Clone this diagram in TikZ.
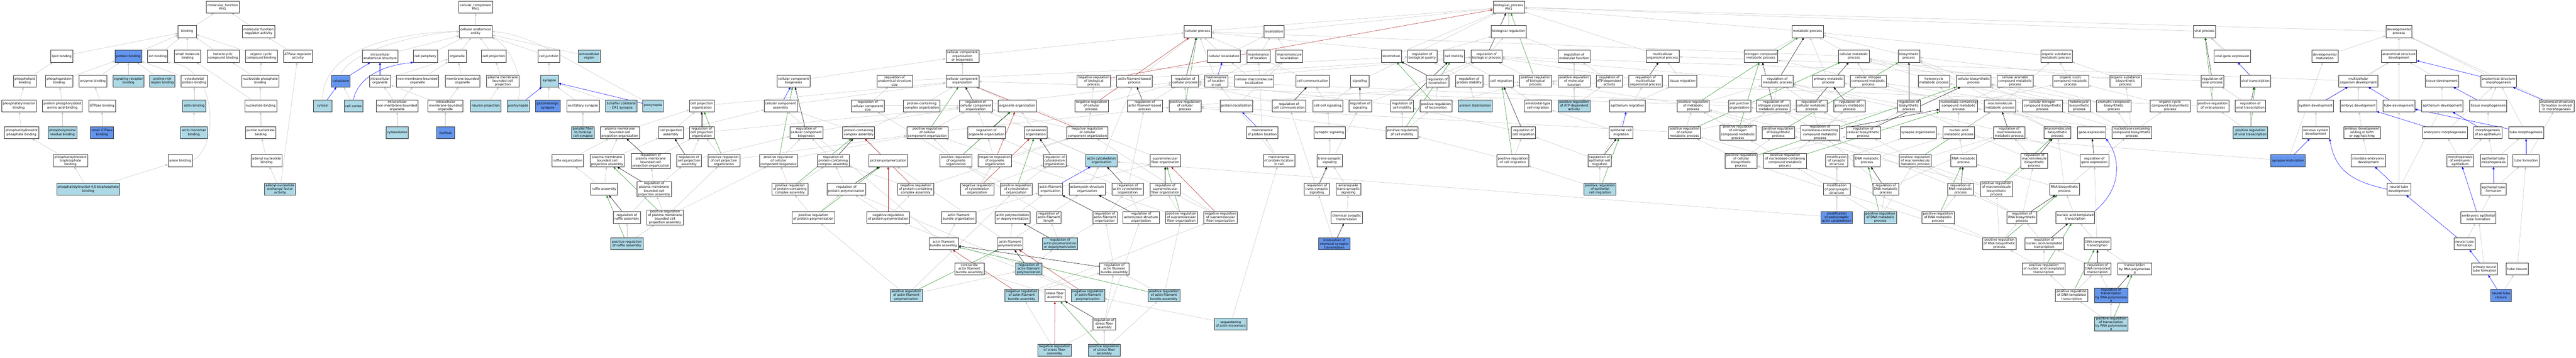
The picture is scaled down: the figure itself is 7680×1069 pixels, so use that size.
\documentclass[tikz,border=0pt]{standalone}
\usepackage{fontspec}
\setmainfont{DejaVu Sans}
\usetikzlibrary{arrows.meta,backgrounds}
\definecolor{hitblue}{HTML}{ADD8E6}
\definecolor{seedblue}{HTML}{6495ED}
\definecolor{posgreen}{HTML}{228B22}
\definecolor{negred}{HTML}{B22222}
\definecolor{isagray}{HTML}{C4C4C4}
\newcommand{\gofont}{\fontsize{9.5}{11}\selectfont}

\begin{document}
\begin{tikzpicture}[x=1pt,y=-1pt,
  goterm/.style={draw=black!80, line width=0.9pt, fill=white, align=center, font=\gofont, inner xsep=3.5pt, inner ysep=1pt, minimum width=54pt, minimum height=36pt},
  gohit/.style={goterm, fill=hitblue},
  goseed/.style={goterm, fill=seedblue},
  isa/.style={draw=isagray, line width=0.8pt, -{Triangle[length=7pt,width=6pt]}},
  regl/.style={isa, draw=black},
  posreg/.style={isa, draw=posgreen},
  negreg/.style={isa, draw=negred},
  partof/.style={isa, draw=blue}]
\useasboundingbox (0,0) rectangle (7680,1069);

\node[goterm] (mfroot) at (664,21) {molecular\_function\\Pfn1};
\node[goterm] (bind) at (558,94) {binding};
\node[goterm] (mfreg) at (771,94) {molecular function\\regulator activity};
\node[goterm] (lipb) at (184,168) {lipid binding};
\node[goseed] (protb) at (383,168) {protein binding};
\node[goterm] (ionb) at (470,168) {ion binding};
\node[goterm] (smolb) at (559,168) {small molecule\\binding};
\node[goterm] (hetb) at (665,168) {heterocyclic\\compound binding};
\node[goterm] (orgcycb) at (779,168) {organic cyclic\\compound binding};
\node[goterm] (atpreg) at (888,168) {ATPase regulator\\activity};
\node[goterm] (phlipb) at (74,242) {phospholipid\\binding};
\node[goterm] (phprotb) at (176,242) {phosphoprotein\\binding};
\node[goterm] (enzb) at (277,242) {enzyme binding};
\node[gohit] (sigrecb) at (383,242) {signaling receptor\\binding};
\node[gohit] (prorb) at (484,242) {proline-rich\\region binding};
\node[goterm] (cytprotb) at (579,242) {cytoskeletal\\protein binding};
\node[goterm] (nucphb) at (776,242) {nucleoside phosphate\\binding};
\node[goterm] (ptdinsb) at (56,316) {phosphatidylinositol\\binding};
\node[goterm] (phaab) at (186,316) {protein phosphorylated\\amino acid binding};
\node[goterm] (gtpb) at (304,316) {GTPase binding};
\node[gohit] (actb) at (579,316) {actin binding};
\node[goterm] (nucb) at (777,316) {nucleotide binding};
\node[goterm] (pipb) at (64,396) {phosphatidylinositol\\phosphate binding};
\node[gohit] (ptyrb) at (186,396) {phosphotyrosine\\residue binding};
\node[goseed] (sgtpb) at (304,396) {small GTPase\\binding};
\node[gohit] (actmb) at (578,396) {actin monomer\\binding};
\node[goterm] (purb) at (777,396) {purine nucleotide\\binding};
\node[goterm] (pip2b) at (210,480) {phosphatidylinositol\\bisphosphate\\binding};
\node[goterm] (anb) at (537,480) {anion binding};
\node[goterm] (adenb) at (795,480) {adenyl nucleotide\\binding};
\node[gohit] (pip45b) at (263,565) {phosphatidylinositol-4,5-bisphosphate\\binding};
\node[gohit] (adnef) at (835,565) {adenyl-nucleotide\\exchange factor\\activity};

\node[goterm] (ccroot) at (1418,21) {cellular\_component\\Pfn1};
\node[goterm] (cae) at (1418,94) {cellular anatomical\\entity};
\node[goterm] (ias) at (1133,168) {intracellular\\anatomical structure};
\node[goterm] (cper) at (1268,168) {cell periphery};
\node[goterm] (orgl) at (1363,168) {organelle};
\node[goterm] (cproj) at (1472,168) {cell projection};
\node[goterm] (cjunc) at (1636,168) {cell junction};
\node[gohit] (excr) at (1757,168) {extracellular\\region};
\node[goseed] (cytpl) at (1016,242) {cytoplasm};
\node[goterm] (iorg) at (1133,242) {intracellular\\organelle};
\node[goterm] (nmbo) at (1245,242) {non-membrane-bounded\\organelle};
\node[goterm] (mbo) at (1379,242) {membrane-bounded\\organelle};
\node[goterm] (pmbcp) at (1499,242) {plasma membrane\\bounded cell\\projection};
\node[gohit] (syn) at (1638,242) {synapse};
\node[gohit] (cytsol) at (962,316) {cytosol};
\node[gohit] (ccort) at (1054,316) {cell cortex};
\node[goterm] (inmbo) at (1184,316) {intracellular\\non-membrane-bounded\\organelle};
\node[goterm] (imbo) at (1328,316) {intracellular\\membrane-bounded\\organelle};
\node[gohit] (neurp) at (1448,316) {neuron projection};
\node[gohit] (postsyn) at (1545,316) {postsynapse};
\node[goseed] (glusyn) at (1633,316) {glutamatergic\\synapse};
\node[goterm] (excsyn) at (1738,316) {excitatory synapse};
\node[gohit] (schaf) at (1852,316) {Schaffer collateral\\- CA1 synapse};
\node[gohit] (presyn) at (1947,316) {presynapse};
\node[gohit] (cytsk) at (1184,396) {cytoskeleton};
\node[goseed] (nucl) at (1328,396) {nucleus};
\node[gohit] (pfpc) at (1738,396) {parallel fiber\\to Purkinje\\cell synapse};

\node[goterm] (pmbcpo) at (1848,396) {plasma membrane\\bounded cell\\projection organization};
\node[goterm] (rufo) at (1692,480) {ruffle organization};
\node[goterm] (pmbcpa) at (1810,480) {plasma membrane\\bounded cell\\projection assembly};
\node[goterm] (rpmbcpo) at (1940,480) {regulation of\\plasma membrane\\bounded cell\\projection organization};
\node[goterm] (rufa) at (1801,565) {ruffle assembly};
\node[goterm] (rpmbcpa) at (1950,565) {regulation of\\plasma membrane\\bounded cell\\projection assembly};
\node[goterm] (rrufa) at (1869,649) {regulation of\\ruffle assembly};
\node[gohit] (prrufa) at (1869,728) {positive regulation\\of ruffle assembly};
\node[goterm] (ccbio) at (2366,242) {cellular component\\biogenesis};
\node[goterm] (cpo) at (2092,316) {cell projection\\organization};
\node[goterm] (cca) at (2327,316) {cellular component\\assembly};
\node[goterm] (rccs) at (2587,316) {regulation of\\cellular component\\size};
\node[goterm] (cpa) at (2000,396) {cell projection\\assembly};
\node[goterm] (rcpo) at (2092,396) {regulation of\\cell projection\\organization};
\node[goterm] (rccb) at (2404,396) {regulation of\\cellular component\\biogenesis};
\node[goterm] (pcca) at (2560,396) {protein-containing\\complex assembly};
\node[goterm] (rcpa) at (2054,480) {regulation of\\cell projection\\assembly};
\node[goterm] (prcpo) at (2158,480) {positive regulation\\of cell projection\\organization};
\node[goterm] (prccb) at (2321,480) {positive regulation\\of cellular\\component biogenesis};
\node[goterm] (rpcca) at (2484,480) {regulation of\\protein-containing\\complex assembly};
\node[goterm] (prpmbcpa) at (1983,649) {positive regulation\\of plasma membrane\\bounded cell\\projection assembly};
\node[goterm] (prpcca) at (2355,565) {positive regulation\\of protein-containing\\complex assembly};
\node[goterm] (rppol) at (2523,565) {regulation of\\protein polymerization};
\node[goterm] (prppol) at (2425,649) {positive regulation\\of protein polymerization};

\node[goterm] (ccob) at (2869,168) {cellular component\\organization\\or biogenesis};
\node[goterm] (rass) at (2667,242) {regulation of\\anatomical structure\\size};
\node[goterm] (cco) at (2869,242) {cellular component\\organization};
\node[goterm] (pcco) at (2748,316) {protein-containing\\complex organization};
\node[goterm] (rcco) at (2909,316) {regulation of\\cellular component\\organization};
\node[goterm] (orgo) at (3033,316) {organelle organization};
\node[goterm] (prcco) at (2765,396) {positive regulation\\of cellular\\component organization};
\node[goterm] (rorgo) at (2941,396) {regulation of\\organelle organization};
\node[goterm] (cytsko) at (3088,396) {cytoskeleton\\organization};
\node[goterm] (nrcco) at (3242,396) {negative regulation\\of cellular\\component organization};
\node[goterm] (ppol) at (2648,480) {protein polymerization};
\node[goterm] (prorgo) at (2850,480) {positive regulation\\of organelle\\organization};
\node[goterm] (nrorgo) at (2966,480) {negative regulation\\of organelle\\organization};
\node[goterm] (rcytsko) at (3144,480) {regulation of\\cytoskeleton\\organization};
\node[goterm] (nrpcca) at (2730,565) {negative regulation\\of protein-containing\\complex assembly};
\node[goterm] (nrcytsko) at (2913,565) {negative regulation\\of cytoskeleton\\organization};
\node[goterm] (prcytsko) at (3030,565) {positive regulation\\of cytoskeleton\\organization};
\node[goterm] (afo) at (3132,565) {actin filament\\organization};
\node[goterm] (amso) at (3241,565) {actomyosin structure\\organization};
\node[goterm] (nrppol) at (2648,649) {negative regulation\\of protein polymerization};
\node[goterm] (afbo) at (2858,649) {actin filament\\bundle organization};
\node[goterm] (apd) at (3019,649) {actin polymerization\\or depolymerization};
\node[goterm] (rafl) at (3127,649) {regulation of\\actin filament\\length};
\node[goterm] (afba) at (2813,728) {actin filament\\bundle assembly};
\node[goterm] (afp) at (3011,728) {actin filament\\polymerization};
\node[gohit] (rapd) at (3160,728) {regulation of\\actin polymerization\\or depolymerization};
\node[goterm] (cafba) at (2890,803) {contractile\\actin filament\\bundle assembly};
\node[gohit] (rafp) at (3067,803) {regulation of\\actin filament\\polymerization};
\node[gohit] (prafp) at (2702,882) {positive regulation\\of actin filament\\polymerization};
\node[gohit] (nrafba) at (3046,882) {negative regulation\\of actin filament\\bundle assembly};
\node[goterm] (sfa) at (3145,882) {stress fiber\\assembly};
\node[gohit] (nrafp) at (3243,882) {negative regulation\\of actin filament\\polymerization};
\node[gohit] (nrsfa) at (3144,1046) {negative regulation\\of stress fiber\\assembly};

\node[goterm] (cellp) at (3571,94) {cellular process};
\node[goterm] (loc) at (3798,94) {localization};
\node[goterm] (cloc) at (3649,168) {cellular localization};
\node[goterm] (mloc) at (3752,168) {maintenance\\of location};
\node[goterm] (macloc) at (3844,168) {macromolecule\\localization};
\node[goterm] (nrbp) at (3261,242) {negative regulation\\of biological\\process};
\node[goterm] (afbp) at (3382,242) {actin filament-based\\process};
\node[goterm] (rcellp) at (3533,242) {regulation of\\cellular process};
\node[goterm] (mlocc) at (3626,242) {maintenance\\of location\\in cell};
\node[goterm] (cmloc) at (3739,242) {cellular macromolecule\\localization};
\node[goterm] (nrcellp) at (3254,316) {negative regulation\\of cellular\\process};
\node[goterm] (rafbp) at (3413,316) {regulation of\\actin filament-based\\process};
\node[goterm] (prcellp) at (3533,316) {positive regulation\\of cellular\\process};
\node[goterm] (ploc) at (3686,316) {protein localization};
\node[goterm] (rcc) at (3843,316) {regulation of\\cell communication};
\node[goterm] (mploc) at (3763,396) {maintenance\\of protein location};
\node[gohit] (acso) at (3284,480) {actin cytoskeleton\\organization};
\node[goterm] (sfo) at (3474,480) {supramolecular\\fiber organization};
\node[goterm] (mplocc) at (3813,480) {maintenance\\of protein location\\in cell};
\node[goterm] (racso) at (3362,565) {regulation of\\actin cytoskeleton\\organization};
\node[goterm] (rsfo) at (3474,565) {regulation of\\supramolecular\\fiber organization};
\node[goterm] (rafo) at (3294,649) {regulation of\\actin filament\\organization};
\node[goterm] (ramso) at (3402,649) {regulation of\\actomyosin structure\\organization};
\node[goterm] (prsfo) at (3522,649) {positive regulation\\of supramolecular\\fiber organization};
\node[goterm] (nrsfo) at (3639,649) {negative regulation\\of supramolecular\\fiber organization};
\node[goterm] (rafba) at (3322,803) {regulation of\\actin filament\\bundle assembly};
\node[gohit] (prafba) at (3470,882) {positive regulation\\of actin filament\\bundle assembly};
\node[gohit] (seqam) at (3669,967) {sequestering\\of actin monomers};
\node[goterm] (rsfa) at (3292,967) {regulation of\\stress fiber\\assembly};
\node[gohit] (prsfa) at (3292,1046) {positive regulation\\of stress fiber\\assembly};

\node[goterm] (bproot) at (4498,21) {biological\_process\\Pfn1};
\node[goterm] (breg) at (4498,94) {biological regulation};
\node[goterm] (locom) at (4148,168) {locomotion};
\node[goterm] (rbq) at (4240,168) {regulation of\\biological quality};
\node[goterm] (cmot) at (4335,168) {cell motility};
\node[goterm] (rbp) at (4432,168) {regulation of\\biological process};
\node[goterm] (ccom) at (3913,242) {cell communication};
\node[goterm] (sig) at (4054,242) {signaling};
\node[goterm] (rlocom) at (4286,242) {regulation of\\locomotion};
\node[goterm] (rps) at (4380,242) {regulation of\\protein stability};
\node[goterm] (cmig) at (4476,242) {cell migration};
\node[goterm] (ccsig) at (3958,316) {cell-cell signaling};
\node[goterm] (rsig) at (4055,316) {regulation of\\signaling};
\node[goterm] (rcmot) at (4180,316) {regulation of\\cell motility};
\node[goterm] (prlocom) at (4281,316) {positive regulation\\of locomotion};
\node[gohit] (pstab) at (4398,316) {protein stabilization};
\node[goterm] (synsig) at (3964,396) {synaptic signaling};
\node[goterm] (prcmot) at (4180,396) {positive regulation\\of cell motility};
\node[goterm] (tss) at (3964,480) {trans-synaptic\\signaling};
\node[goterm] (prcmig) at (4510,480) {positive regulation\\of cell migration};
\node[goterm] (rtss) at (3926,565) {regulation of\\trans-synaptic\\signaling};
\node[goterm] (atss) at (4020,565) {anterograde\\trans-synaptic\\signaling};
\node[goterm] (cst) at (4015,649) {chemical synaptic\\transmission};
\node[goseed] (mcst) at (3978,728) {modulation of\\chemical synaptic\\transmission};

\node[goterm] (rmf) at (4693,168) {regulation of\\molecular function};
\node[goterm] (mop) at (4957,168) {multicellular\\organismal process};
\node[goterm] (prbp) at (4578,242) {positive regulation\\of biological\\process};
\node[goterm] (prmf) at (4693,242) {positive regulation\\of molecular\\function};
\node[goterm] (ratp) at (4798,242) {regulation of\\ATP-dependent\\activity};
\node[goterm] (rmop) at (4906,242) {regulation of\\multicellular\\organismal process};
\node[goterm] (tmig) at (5016,242) {tissue migration};
\node[goterm] (amcm) at (4585,316) {ameboidal-type\\cell migration};
\node[gohit] (pratp) at (4693,316) {positive regulation\\of ATP-dependent\\activity};
\node[goterm] (epmig) at (4852,316) {epithelium migration};
\node[goterm] (prmp) at (5048,316) {positive regulation\\of metabolic\\process};
\node[goterm] (rcmig) at (4542,396) {regulation of\\cell migration};
\node[goterm] (epcm) at (4833,396) {epithelial cell\\migration};
\node[goterm] (prcmp) at (5022,396) {positive regulation\\of cellular\\metabolic process};
\node[goterm] (repcm) at (4769,480) {regulation of\\epithelial cell\\migration};
\node[gohit] (prepcm) at (4770,565) {positive regulation\\of epithelial\\cell migration};

\node[goterm] (metp) at (5389,94) {metabolic process};
\node[goterm] (ncmp) at (5250,168) {nitrogen compound\\metabolic process};
\node[goterm] (cmp) at (5527,168) {cellular metabolic\\process};
\node[goterm] (biosp) at (5691,168) {biosynthetic\\process};
\node[goterm] (rmp) at (5299,242) {regulation of\\metabolic process};
\node[goterm] (pmp) at (5451,242) {primary metabolic\\process};
\node[goterm] (cncmp) at (5570,242) {cellular nitrogen\\compound metabolic\\process};
\node[goterm] (hmp) at (5766,242) {heterocycle\\metabolic process};
\node[goterm] (cjo) at (5186,316) {cell junction\\organization};
\node[goterm] (rncmp) at (5287,316) {regulation of\\nitrogen compound\\metabolic process};
\node[goterm] (rcmp) at (5401,316) {regulation of\\cellular metabolic\\process};
\node[goterm] (rpmp) at (5514,316) {regulation of\\primary metabolic\\process};
\node[goterm] (rbiosp) at (5691,316) {regulation of\\biosynthetic\\process};
\node[goterm] (prncmp) at (5181,396) {positive regulation\\of nitrogen\\compound metabolic\\process};
\node[goterm] (prbiosp) at (5302,396) {positive regulation\\of biosynthetic\\process};
\node[goterm] (rnbcmp) at (5426,396) {regulation of\\nucleobase-containing\\compound metabolic\\process};
\node[goterm] (rcbiosp) at (5555,396) {regulation of\\cellular biosynthetic\\process};
\node[goterm] (syno) at (5719,396) {synapse organization};
\node[goterm] (prcbiosp) at (5191,480) {positive regulation\\of cellular\\biosynthetic\\process};
\node[goterm] (prnbcmp) at (5322,480) {positive regulation\\of nucleobase-containing\\compound metabolic\\process};
\node[goterm] (mss) at (5476,480) {modification\\of synaptic\\structure};
\node[goterm] (dnamp) at (5566,480) {DNA metabolic\\process};
\node[goterm] (prmmp) at (5710,480) {positive regulation\\of macromolecule\\metabolic process};
\node[goterm] (mpss) at (5476,565) {modification\\of postsynaptic\\structure};
\node[goterm] (rdnamp) at (5622,565) {regulation of\\DNA metabolic\\process};
\node[goseed] (mpac) at (5476,649) {modification\\of postsynaptic\\actin cytoskeleton};
\node[gohit] (prdnamp) at (5606,649) {positive regulation\\of DNA metabolic\\process};
\node[goterm] (prrnamp) at (5778,649) {positive regulation\\of RNA metabolic\\process};

\node[goterm] (osmp) at (6131,168) {organic substance\\metabolic process};
\node[goterm] (cbiosp) at (5884,242) {cellular biosynthetic\\process};
\node[goterm] (camp) at (6008,242) {cellular aromatic\\compound metabolic\\process};
\node[goterm] (occmp) at (6173,242) {organic cyclic\\compound metabolic\\process};
\node[goterm] (osbp) at (6337,242) {organic substance\\biosynthetic\\process};
\node[goterm] (nbcmp) at (5839,316) {nucleobase-containing\\compound metabolic\\process};
\node[goterm] (mmp) at (5963,316) {macromolecule\\metabolic process};
\node[goterm] (cncbp) at (6089,316) {cellular nitrogen\\compound biosynthetic\\process};
\node[goterm] (hbp) at (6199,316) {heterocycle\\biosynthetic\\process};
\node[goterm] (acbp) at (6302,316) {aromatic compound\\biosynthetic\\process};
\node[goterm] (namp) at (5840,396) {nucleic acid\\metabolic process};
\node[goterm] (rmmp) at (5990,396) {regulation of\\macromolecule\\metabolic process};
\node[goterm] (mbp) at (6134,396) {macromolecule\\biosynthetic\\process};
\node[goterm] (gexp) at (6236,396) {gene expression};
\node[goterm] (nbcbp) at (6356,396) {nucleobase-containing\\compound biosynthetic\\process};
\node[goterm] (rnamp) at (5854,480) {RNA metabolic\\process};
\node[goterm] (rmbp) at (6065,480) {regulation of\\macromolecule\\biosynthetic\\process};
\node[goterm] (rgexp) at (6244,480) {regulation of\\gene expression};
\node[goterm] (rrnamp) at (5845,565) {regulation of\\RNA metabolic\\process};
\node[goterm] (prmbp) at (5952,565) {positive regulation\\of macromolecule\\biosynthetic\\process};
\node[goterm] (rnabp) at (6155,565) {RNA biosynthetic\\process};
\node[goterm] (rrnabp) at (6028,649) {regulation of\\RNA biosynthetic\\process};
\node[goterm] (natt) at (6187,649) {nucleic acid-templated\\transcription};
\node[goterm] (prrnabp) at (5961,728) {positive regulation\\of RNA biosynthetic\\process};
\node[goterm] (rnatt) at (6094,728) {regulation of\\nucleic acid-templated\\transcription};
\node[goterm] (dtt) at (6253,728) {DNA-templated\\transcription};
\node[goterm] (prnatt) at (6093,803) {positive regulation\\of nucleic acid-templated\\transcription};
\node[goterm] (rdtt) at (6254,803) {regulation of\\DNA-templated\\transcription};
\node[goterm] (tpol) at (6364,803) {transcription\\by RNA polymerase\\II};
\node[goterm] (prdtt) at (6176,882) {positive regulation\\of DNA-templated\\transcription};
\node[goseed] (rtpol) at (6294,882) {regulation of\\transcription\\by RNA polymerase\\II};
\node[gohit] (prtpol) at (6294,967) {positive regulation\\of transcription\\by RNA polymerase\\II};

\node[goterm] (virp) at (6572,94) {viral process};
\node[goterm] (vge) at (6655,168) {viral gene expression};
\node[goterm] (devmat) at (6931,168) {developmental\\maturation};
\node[goterm] (rvirp) at (6596,242) {regulation of\\viral process};
\node[goterm] (virt) at (6724,242) {viral transcription};
\node[goterm] (mod) at (7031,242) {multicellular\\organism development};
\node[goterm] (occbp) at (6470,316) {organic cyclic\\compound biosynthetic\\process};
\node[goterm] (prvirp) at (6597,316) {positive regulation\\of viral process};
\node[goterm] (rvirt) at (6709,316) {regulation of\\viral transcription};
\node[goterm] (sysdev) at (6904,316) {system development};
\node[goterm] (embdev) at (7031,316) {embryo development};
\node[gohit] (prvirt) at (6709,396) {positive regulation\\of viral transcription};
\node[goterm] (nsdev) at (6904,396) {nervous system\\development};
\node[goterm] (edeb) at (7042,396) {embryo development\\ending in birth\\or egg hatching};
\node[goseed] (synmat) at (6821,480) {synapse maturation};
\node[goterm] (ced) at (7061,480) {chordate embryonic\\development};

\node[goterm] (devp) at (7152,94) {developmental\\process};
\node[goterm] (asdev) at (7152,168) {anatomical structure\\development};
\node[goterm] (tisdev) at (7280,242) {tissue development};
\node[goterm] (asmor) at (7449,242) {anatomical structure\\morphogenesis};
\node[goterm] (tubdev) at (7152,316) {tube development};
\node[goterm] (epdev) at (7281,316) {epithelium development};
\node[goterm] (tismor) at (7418,316) {tissue morphogenesis};
\node[goterm] (asfim) at (7622,316) {anatomical structure\\formation involved\\in morphogenesis};
\node[goterm] (embmor) at (7289,396) {embryonic morphogenesis};
\node[goterm] (moep) at (7417,396) {morphogenesis\\of an epithelium};
\node[goterm] (tubmor) at (7531,396) {tube morphogenesis};
\node[goterm] (moemb) at (7335,480) {morphogenesis\\of embryonic\\epithelium};
\node[goterm] (eptm) at (7434,480) {epithelial tube\\morphogenesis};
\node[goterm] (tubf) at (7531,480) {tube formation};
\node[goterm] (ntdev) at (7152,565) {neural tube\\development};
\node[goterm] (eptf) at (7434,565) {epithelial tube\\formation};
\node[goterm] (eetf) at (7389,649) {embryonic epithelial\\tube formation};
\node[goterm] (ntf) at (7348,728) {neural tube\\formation};
\node[goterm] (pntf) at (7407,803) {primary neural\\tube formation};
\node[goterm] (tubc) at (7505,803) {tube closure};
\node[goseed] (ntc) at (7456,882) {neural tube\\closure};

\begin{scope}[on background layer]
\fill[white] (0,0) rectangle (7680,1069);
\draw[isa] (bind) -- (mfroot); \draw[isa] (mfreg) -- (mfroot); \draw[isa] (lipb) -- (bind); \draw[isa] (protb) -- (bind);
\draw[isa] (ionb) -- (bind); \draw[isa] (smolb) -- (bind); \draw[isa] (hetb) -- (bind); \draw[isa] (orgcycb) -- (bind);
\draw[isa] (atpreg) -- (mfreg); \draw[isa] (phlipb) -- (lipb); \draw[isa] (phprotb) -- (protb); \draw[isa] (enzb) -- (protb);
\draw[isa] (sigrecb) -- (protb); \draw[isa] (prorb) -- (protb); \draw[isa] (cytprotb) -- (protb); \draw[isa] (nucphb) -- (orgcycb);
\draw[isa] (nucphb) -- (hetb); \draw[isa] (ptdinsb) -- (phlipb); \draw[isa] (phaab) -- (phprotb); \draw[isa] (gtpb) -- (enzb);
\draw[isa] (actb) -- (cytprotb); \draw[isa] (nucb) -- (nucphb); \draw[isa] (nucb) -- (smolb); \draw[isa] (pipb) -- (ptdinsb);
\draw[isa] (ptyrb) -- (phaab); \draw[isa] (sgtpb) -- (gtpb); \draw[isa] (actmb) -- (actb); \draw[isa] (purb) -- (nucb);
\draw[isa] (pip2b) -- (pipb); \draw[isa] (adenb) -- (purb); \draw[isa] (pip45b) -- (pip2b);
\draw[isa] (anb.east) .. controls (655,440) and (650,200) .. (ionb.south east);
\draw[isa] (pip45b) -- (anb); \draw[isa] (adnef) -- (adenb); \draw[isa] (adnef) -- (atpreg);

\draw[isa] (cae) -- (ccroot); \draw[isa] (ias) -- (cae); \draw[isa] (cper) -- (cae); \draw[isa] (orgl) -- (cae);
\draw[isa] (cproj) -- (cae); \draw[isa] (cjunc) -- (cae); \draw[isa] (excr) -- (cae);
\draw[isa] (cytpl.north) .. controls (1045,150) and (1250,100) .. (cae.west);
\draw[isa] (cytsol.north) .. controls (960,140) and (1200,96) .. (cae.west);
\draw[isa] (postsyn.north) .. controls (1565,220) and (1510,130) .. (cae.south east);
\draw[isa] (presyn.north west) .. controls (1720,200) and (1600,105) .. (cae.east);
\draw[isa] (iorg) -- (orgl);
\draw[isa] (nmbo) -- (orgl); \draw[isa] (mbo) -- (orgl); \draw[isa] (pmbcp) -- (cproj); \draw[isa] (syn) -- (cjunc);
\draw[isa] (ccort) -- (cytpl); \draw[isa] (inmbo) -- (iorg); \draw[isa] (inmbo) -- (nmbo); \draw[isa] (imbo) -- (iorg);
\draw[isa] (imbo) -- (mbo); \draw[isa] (neurp) -- (pmbcp); \draw[isa] (glusyn) -- (syn); \draw[isa] (excsyn) -- (syn);
\draw[isa] (schaf) -- (syn); \draw[isa] (cytsk) -- (inmbo); \draw[isa] (nucl) -- (imbo); \draw[isa] (pfpc) -- (excsyn);
\draw[partof] (cytpl) -- (ias); \draw[partof] (iorg) -- (ias); \draw[partof] (cytsol) -- (cytpl);
\draw[partof] (ccort.north) .. controls (1060,260) and (1100,200) .. (cper.south west);
\draw[partof] (postsyn) -- (syn); \draw[partof] (presyn) -- (syn);

\draw[isa] (rufo) -- (pmbcpo); \draw[isa] (pmbcpa) -- (pmbcpo); \draw[isa] (rufa) -- (rufo); \draw[isa] (rufa) -- (pmbcpa);
\draw[isa] (rrufa) -- (rpmbcpa); \draw[isa] (prrufa) -- (rrufa); \draw[isa] (prrufa) -- (prpmbcpa); \draw[isa] (pmbcpo) -- (cpo);
\draw[isa] (pmbcpa) -- (cpa); \draw[isa] (rpmbcpo) -- (rcpo); \draw[isa] (rpmbcpa) -- (rpmbcpo); \draw[isa] (rpmbcpa) -- (rcpa);
\draw[isa] (prpmbcpa) -- (rpmbcpa); \draw[isa] (prpmbcpa) -- (prcpo); \draw[isa] (prpmbcpa) -- (prccb); \draw[isa] (cpa) -- (cpo);
\draw[isa] (cpa) -- (cca); \draw[isa] (rcpa) -- (rcpo); \draw[isa] (prcpo) -- (rcpo); \draw[isa] (cpo) -- (cco);
\draw[isa] (cca) -- (cco); \draw[isa] (ccbio) -- (ccob); \draw[isa] (prccb) -- (rccb); \draw[isa] (rpcca) -- (rccb);
\draw[isa] (prpcca) -- (prccb); \draw[isa] (prpcca) -- (rpcca); \draw[isa] (rppol) -- (rpcca); \draw[isa] (prppol) -- (prpcca);
\draw[isa] (prppol) -- (rppol); \draw[isa] (pcca) -- (cca); \draw[isa] (pcca) -- (pcco); \draw[isa] (rccb) -- (rcco);
\draw[isa] (prccb) -- (prcco); \draw[isa] (rcpo) -- (rcco); \draw[isa] (prcpo) -- (prcco); \draw[isa] (rcpa) -- (rccb);
\draw[isa] (rccs) -- (rass); \draw[isa] (rccs) -- (rcco);
\draw[regl] (rpmbcpo) -- (pmbcpo); \draw[regl] (rpmbcpa) -- (pmbcpa); \draw[regl] (rrufa) -- (rufa); \draw[regl] (rcpo) -- (cpo);
\draw[regl] (rcpa) -- (cpa); \draw[regl] (rccb) -- (ccbio); \draw[regl] (rpcca) -- (pcca); \draw[regl] (rppol) -- (ppol);
\draw[posreg] (prrufa) -- (rufa); \draw[posreg] (prpmbcpa) -- (pmbcpa); \draw[posreg] (prcpo) -- (cpo); \draw[posreg] (prccb) -- (ccbio);
\draw[posreg] (prpcca) -- (pcca); \draw[posreg] (prppol) -- (ppol);
\draw[partof] (cca) -- (ccbio);

\draw[isa] (cco) -- (ccob); \draw[isa] (ccob) -- (cellp); \draw[isa] (rass) -- (rbq); \draw[isa] (pcco) -- (cco);
\draw[isa] (rcco) -- (rcellp); \draw[isa] (orgo) -- (cco); \draw[isa] (prcco) -- (rcco); \draw[isa] (prcco) -- (prcellp);
\draw[isa] (rorgo) -- (rcco); \draw[isa] (cytsko) -- (orgo); \draw[isa] (nrcco) -- (rcco); \draw[isa] (nrcco) -- (nrcellp);
\draw[isa] (ppol) -- (pcca); \draw[isa] (prorgo) -- (rorgo); \draw[isa] (prorgo) -- (prcco); \draw[isa] (nrorgo) -- (rorgo);
\draw[isa] (nrorgo) -- (nrcco); \draw[isa] (rcytsko) -- (rorgo); \draw[isa] (nrpcca) -- (rpcca); \draw[isa] (nrpcca) -- (nrcco);
\draw[isa] (nrcytsko) -- (rcytsko); \draw[isa] (nrcytsko) -- (nrorgo); \draw[isa] (prcytsko) -- (rcytsko); \draw[isa] (prcytsko) -- (prorgo);
\draw[isa] (afo) -- (sfo); \draw[isa] (nrppol) -- (rppol); \draw[isa] (nrppol) -- (nrpcca); \draw[isa] (afbo) -- (afo);
\draw[isa] (apd) -- (afo); \draw[isa] (rafl) -- (rccs); \draw[isa] (afba) -- (afbo); \draw[isa] (afba) -- (cca);
\draw[isa] (afp) -- (apd); \draw[isa] (afp) -- (ppol); \draw[isa] (rapd) -- (rafl); \draw[isa] (rapd) -- (rafo);
\draw[isa] (cafba) -- (afba); \draw[isa] (cafba) -- (amso); \draw[isa] (rafp) -- (rapd); \draw[isa] (rafp) -- (rppol);
\draw[isa] (prafp) -- (rafp); \draw[isa] (prafp) -- (prppol); \draw[isa] (prafp) -- (prcytsko); \draw[isa] (nrafba) -- (rafba);
\draw[isa] (nrafba) -- (nrsfo); \draw[isa] (sfa) -- (cafba); \draw[isa] (nrafp) -- (rafp); \draw[isa] (nrafp) -- (nrppol);
\draw[isa] (nrsfa) -- (rsfa); \draw[isa] (nrsfa) -- (nrafba);
\draw[regl] (rcco) -- (cco); \draw[regl] (rorgo) -- (orgo); \draw[regl] (rcytsko) -- (cytsko); \draw[regl] (rafp) -- (afp);
\draw[regl] (rapd) -- (apd); \draw[regl] (rafba) -- (afba); \draw[regl] (rsfa) -- (sfa);
\draw[posreg] (prcco) -- (cco); \draw[posreg] (prorgo) -- (orgo); \draw[posreg] (prcytsko) -- (cytsko); \draw[posreg] (prafp) -- (afp);
\draw[posreg] (prafba) -- (afba); \draw[posreg] (prsfa) -- (sfa);
\draw[negreg] (nrcco) -- (cco); \draw[negreg] (nrorgo) -- (orgo); \draw[negreg] (nrcytsko) -- (cytsko); \draw[negreg] (nrpcca) -- (pcca);
\draw[negreg] (nrppol) -- (ppol); \draw[negreg] (nrafba) -- (afba); \draw[negreg] (nrafp) -- (afp); \draw[negreg] (nrsfa) -- (sfa);
\draw[partof] (afo) -- (acso);

\draw[isa] (cellp) -- (bproot); \draw[isa] (loc) -- (bproot); \draw[isa] (cloc) -- (loc); \draw[isa] (cloc) -- (cellp);
\draw[isa] (mloc) -- (loc); \draw[isa] (macloc) -- (loc); \draw[isa] (afbp) -- (cellp); \draw[isa] (rcellp) -- (rbp);
\draw[isa] (mlocc) -- (mloc); \draw[isa] (mlocc) -- (cellp); \draw[isa] (cmloc) -- (macloc); \draw[isa] (cmloc) -- (cloc);
\draw[isa] (nrbp) -- (rbp); \draw[isa] (rafbp) -- (rcellp); \draw[isa] (prcellp) -- (rcellp); \draw[isa] (prcellp) -- (prbp);
\draw[isa] (nrcellp) -- (nrbp); \draw[isa] (nrcellp) -- (rcellp); \draw[isa] (ploc) -- (macloc); \draw[isa] (mploc) -- (mloc);
\draw[isa] (acso) -- (afbp); \draw[isa] (acso) -- (cytsko); \draw[isa] (sfo) -- (cco); \draw[isa] (mplocc) -- (mploc);
\draw[isa] (mplocc) -- (mlocc); \draw[isa] (amso) -- (acso); \draw[isa] (racso) -- (rafbp); \draw[isa] (racso) -- (rcytsko);
\draw[isa] (rsfo) -- (rcco); \draw[isa] (rafo) -- (racso); \draw[isa] (rafo) -- (rsfo); \draw[isa] (ramso) -- (racso);
\draw[isa] (prsfo) -- (rsfo); \draw[isa] (prsfo) -- (prcco); \draw[isa] (nrsfo) -- (rsfo); \draw[isa] (nrsfo) -- (nrcco);
\draw[isa] (rafba) -- (rafo); \draw[isa] (prafba) -- (rafba); \draw[isa] (prafba) -- (prsfo); \draw[isa] (seqam) -- (nrafp);
\draw[isa] (seqam) -- (mplocc); \draw[isa] (rsfa) -- (ramso); \draw[isa] (rsfa) -- (rafba); \draw[isa] (prsfa) -- (rsfa);
\draw[isa] (prsfa) -- (prafba);
\draw[regl] (rcellp) -- (cellp); \draw[regl] (rafbp) -- (afbp); \draw[regl] (racso) -- (acso); \draw[regl] (rsfo) -- (sfo);
\draw[regl] (rafo) -- (afo); \draw[regl] (ramso) -- (amso); \draw[regl] (rbp) -- (bproot);
\draw[posreg] (prcellp) -- (cellp); \draw[posreg] (prsfo) -- (sfo); \draw[posreg] (prbp) -- (bproot);
\draw[negreg] (nrbp) -- (bproot); \draw[negreg] (nrcellp) -- (cellp); \draw[negreg] (nrsfo) -- (sfo);
\draw[partof] (mlocc) -- (cloc); \draw[partof] (mploc) -- (ploc);

\draw[isa] (breg) -- (bproot); \draw[isa] (locom) -- (bproot); \draw[isa] (rbq) -- (breg); \draw[isa] (cmot) -- (cellp);
\draw[isa] (rbp) -- (breg); \draw[isa] (ccom) -- (cellp); \draw[isa] (sig) -- (bproot); \draw[isa] (rlocom) -- (rbp);
\draw[isa] (rps) -- (rbq); \draw[isa] (cmig) -- (cmot); \draw[isa] (rcc) -- (rcellp); \draw[isa] (ccsig) -- (ccom);
\draw[isa] (ccsig) -- (sig); \draw[isa] (rsig) -- (rbp); \draw[isa] (rcmot) -- (rlocom); \draw[isa] (rcmot) -- (rcellp);
\draw[isa] (prlocom) -- (rlocom); \draw[isa] (prlocom) -- (prbp); \draw[isa] (pstab) -- (rps); \draw[isa] (synsig) -- (ccsig);
\draw[isa] (prcmot) -- (rcmot); \draw[isa] (prcmot) -- (prlocom); \draw[isa] (prcmot) -- (prcellp); \draw[isa] (tss) -- (synsig);
\draw[isa] (rtss) -- (rsig); \draw[isa] (rtss) -- (rcc); \draw[isa] (atss) -- (tss); \draw[isa] (cst) -- (atss);
\draw[isa] (mcst) -- (rtss); \draw[isa] (prcmig) -- (prcmot); \draw[isa] (prcmig) -- (rcmig); \draw[isa] (rcmig) -- (rcmot);
\draw[regl] (rlocom) -- (locom); \draw[regl] (rcc) -- (ccom); \draw[regl] (rsig) -- (sig); \draw[regl] (rcmot) -- (cmot);
\draw[regl] (rtss) -- (tss); \draw[regl] (mcst) -- (cst); \draw[regl] (rcmig) -- (cmig);
\draw[posreg] (prlocom) -- (locom); \draw[posreg] (prcmot) -- (cmot); \draw[posreg] (prcmig) -- (cmig);

\draw[isa] (mop) -- (bproot); \draw[isa] (rmf) -- (breg); \draw[isa] (prbp) -- (rbp); \draw[isa] (prmf) -- (rmf);
\draw[isa] (prmf) -- (prbp); \draw[isa] (ratp) -- (rmf); \draw[isa] (rmop) -- (rbp); \draw[isa] (tmig) -- (mop);
\draw[isa] (amcm) -- (cmig); \draw[isa] (pratp) -- (prmf); \draw[isa] (pratp) -- (ratp); \draw[isa] (epmig) -- (tmig);
\draw[isa] (prmp) -- (rmp); \draw[isa] (prmp) -- (prbp); \draw[isa] (epcm) -- (amcm); \draw[isa] (prcmp) -- (prmp);
\draw[isa] (prcmp) -- (rcmp); \draw[isa] (prcmp) -- (prcellp); \draw[isa] (repcm) -- (rcmig); \draw[isa] (repcm) -- (rmop);
\draw[isa] (prepcm) -- (repcm); \draw[isa] (prepcm) -- (prcmig);
\draw[regl] (rmop) -- (mop); \draw[regl] (repcm) -- (epcm);
\draw[posreg] (prmp) -- (metp); \draw[posreg] (prcmp) -- (cmp); \draw[posreg] (prepcm) -- (epcm);
\draw[partof] (epcm) -- (epmig);

\draw[isa] (metp) -- (bproot); \draw[isa] (ncmp) -- (metp); \draw[isa] (cmp) -- (metp); \draw[isa] (cmp) -- (cellp);
\draw[isa] (biosp) -- (metp); \draw[isa] (rmp) -- (rbp); \draw[isa] (pmp) -- (metp); \draw[isa] (cncmp) -- (cmp);
\draw[isa] (cncmp) -- (ncmp); \draw[isa] (hmp) -- (cmp); \draw[isa] (rncmp) -- (rmp); \draw[isa] (rcmp) -- (rmp);
\draw[isa] (rcmp) -- (rcellp); \draw[isa] (rpmp) -- (rmp); \draw[isa] (rbiosp) -- (rmp); \draw[isa] (cjo) -- (cco);
\draw[isa] (prncmp) -- (rncmp); \draw[isa] (prncmp) -- (prmp); \draw[isa] (prbiosp) -- (rbiosp); \draw[isa] (prbiosp) -- (prmp);
\draw[isa] (rnbcmp) -- (rcmp); \draw[isa] (rnbcmp) -- (rncmp); \draw[isa] (rnbcmp) -- (rpmp); \draw[isa] (rcbiosp) -- (rbiosp);
\draw[isa] (rcbiosp) -- (rcmp); \draw[isa] (syno) -- (cjo); \draw[isa] (prcbiosp) -- (prbiosp); \draw[isa] (prcbiosp) -- (rcbiosp);
\draw[isa] (prcbiosp) -- (prcmp); \draw[isa] (prnbcmp) -- (rnbcmp); \draw[isa] (prnbcmp) -- (prncmp); \draw[isa] (prnbcmp) -- (prcmp);
\draw[isa] (mss) -- (syno); \draw[isa] (dnamp) -- (namp); \draw[isa] (prmmp) -- (rmmp); \draw[isa] (prmmp) -- (prmp);
\draw[isa] (mpss) -- (mss); \draw[isa] (rdnamp) -- (rnbcmp); \draw[isa] (rdnamp) -- (rmmp); \draw[isa] (mpac) -- (mpss);
\draw[isa] (mpac) -- (acso); \draw[isa] (prdnamp) -- (rdnamp); \draw[isa] (prdnamp) -- (prmmp); \draw[isa] (prdnamp) -- (prnbcmp);
\draw[isa] (prrnamp) -- (rrnamp); \draw[isa] (prrnamp) -- (prnbcmp);
\draw[regl] (rmp) -- (metp); \draw[regl] (rncmp) -- (ncmp); \draw[regl] (rcmp) -- (cmp); \draw[regl] (rpmp) -- (pmp);
\draw[regl] (rbiosp) -- (biosp); \draw[regl] (rnbcmp) -- (nbcmp); \draw[regl] (rcbiosp) -- (cbiosp); \draw[regl] (rdnamp) -- (dnamp);
\draw[posreg] (prncmp) -- (ncmp); \draw[posreg] (prbiosp) -- (biosp); \draw[posreg] (prcbiosp) -- (cbiosp); \draw[posreg] (prnbcmp) -- (nbcmp);
\draw[posreg] (prmmp) -- (mmp); \draw[posreg] (prdnamp) -- (dnamp); \draw[posreg] (prrnamp) -- (rnamp);

\draw[isa] (osmp) -- (metp); \draw[isa] (cbiosp) -- (biosp); \draw[isa] (cbiosp) -- (cmp); \draw[isa] (camp) -- (cmp);
\draw[isa] (occmp) -- (osmp); \draw[isa] (osbp) -- (osmp); \draw[isa] (osbp) -- (biosp); \draw[isa] (nbcmp) -- (hmp);
\draw[isa] (nbcmp) -- (camp); \draw[isa] (nbcmp) -- (occmp); \draw[isa] (nbcmp) -- (cncmp); \draw[isa] (mmp) -- (osmp);
\draw[isa] (mmp) -- (pmp); \draw[isa] (cncbp) -- (cbiosp); \draw[isa] (cncbp) -- (cncmp); \draw[isa] (hbp) -- (hmp);
\draw[isa] (hbp) -- (cbiosp); \draw[isa] (acbp) -- (camp); \draw[isa] (acbp) -- (cbiosp); \draw[isa] (namp) -- (nbcmp);
\draw[isa] (namp) -- (mmp); \draw[isa] (rmmp) -- (rmp); \draw[isa] (mbp) -- (mmp); \draw[isa] (mbp) -- (biosp);
\draw[isa] (gexp) -- (mmp); \draw[isa] (nbcbp) -- (nbcmp); \draw[isa] (nbcbp) -- (hbp); \draw[isa] (nbcbp) -- (acbp);
\draw[isa] (nbcbp) -- (cncbp); \draw[isa] (nbcbp) -- (occbp); \draw[isa] (nbcbp) -- (osbp); \draw[isa] (rnamp) -- (namp);
\draw[isa] (rmbp) -- (rmmp); \draw[isa] (rmbp) -- (rbiosp); \draw[isa] (rgexp) -- (rmmp); \draw[isa] (rrnamp) -- (rnbcmp);
\draw[isa] (prmbp) -- (rmbp); \draw[isa] (prmbp) -- (prmmp); \draw[isa] (prmbp) -- (prbiosp); \draw[isa] (rnabp) -- (rnamp);
\draw[isa] (rnabp) -- (nbcbp); \draw[isa] (rnabp) -- (mbp); \draw[isa] (rrnabp) -- (rrnamp); \draw[isa] (rrnabp) -- (rmbp);
\draw[isa] (rrnabp) -- (rcbiosp); \draw[isa] (natt) -- (rnabp); \draw[isa] (prrnabp) -- (rrnabp); \draw[isa] (prrnabp) -- (prrnamp);
\draw[isa] (prrnabp) -- (prmbp); \draw[isa] (prrnabp) -- (prcbiosp); \draw[isa] (rnatt) -- (rrnabp); \draw[isa] (dtt) -- (natt);
\draw[isa] (prnatt) -- (rnatt); \draw[isa] (prnatt) -- (prrnabp); \draw[isa] (rdtt) -- (rnatt); \draw[isa] (rdtt) -- (rgexp);
\draw[isa] (tpol) -- (dtt); \draw[isa] (prdtt) -- (rdtt); \draw[isa] (prdtt) -- (prnatt); \draw[isa] (rtpol) -- (rdtt);
\draw[isa] (prtpol) -- (rtpol); \draw[isa] (prtpol) -- (prdtt); \draw[isa] (occbp) -- (occmp);
\draw[regl] (rmmp) -- (mmp); \draw[regl] (rmbp) -- (mbp); \draw[regl] (rgexp) -- (gexp); \draw[regl] (rrnamp) -- (rnamp);
\draw[regl] (rrnabp) -- (rnabp); \draw[regl] (rnatt) -- (natt); \draw[regl] (rdtt) -- (dtt); \draw[regl] (rtpol) -- (tpol);
\draw[posreg] (prmbp) -- (mbp); \draw[posreg] (prrnabp) -- (rnabp); \draw[posreg] (prnatt) -- (natt); \draw[posreg] (prdtt) -- (dtt);
\draw[posreg] (prtpol) -- (tpol);
\draw[partof] (natt.north east) .. controls (6330,560) and (6320,470) .. (gexp.south east);

\draw[isa] (virp) -- (bproot); \draw[isa] (vge) -- (virp); \draw[isa] (rvirp) -- (rbp); \draw[isa] (prvirp) -- (rvirp);
\draw[isa] (prvirp) -- (prbp); \draw[isa] (virt) -- (virp); \draw[isa] (rvirt) -- (rvirp); \draw[isa] (prvirt) -- (rvirt);
\draw[isa] (prvirt) -- (prvirp); \draw[isa] (devmat) -- (devp); \draw[isa] (sysdev) -- (asdev); \draw[isa] (nsdev) -- (sysdev);
\draw[isa] (synmat) -- (devmat); \draw[isa] (synmat) -- (syno); \draw[isa] (embdev) -- (mod); \draw[isa] (edeb) -- (embdev);
\draw[isa] (ced) -- (edeb); \draw[isa] (mod) -- (mop); \draw[isa] (mod) -- (asdev);
\draw[regl] (rvirp) -- (virp); \draw[regl] (rvirt) -- (virt);
\draw[posreg] (prvirp) -- (virp); \draw[posreg] (prvirt) -- (virt);
\draw[partof] (virt) -- (vge); \draw[partof] (sysdev) -- (mod); \draw[partof] (synmat) -- (nsdev);
\draw[partof] (ntdev.west) .. controls (7000,540) and (6960,500) .. (nsdev.south east);

\draw[isa] (devp) -- (bproot); \draw[isa] (asdev) -- (devp); \draw[isa] (tisdev) -- (asdev); \draw[isa] (asmor) -- (devp);
\draw[isa] (asfim) -- (devp); \draw[isa] (tubdev) -- (asdev); \draw[isa] (epdev) -- (tisdev); \draw[isa] (tismor) -- (asmor);
\draw[isa] (embmor) -- (asmor); \draw[isa] (moep) -- (tismor); \draw[isa] (tubmor) -- (asmor); \draw[isa] (moemb) -- (embmor);
\draw[isa] (moemb) -- (moep); \draw[isa] (eptm) -- (moep); \draw[isa] (eptm) -- (tubmor); \draw[isa] (tubf) -- (asfim);
\draw[isa] (ntdev) -- (tubdev); \draw[isa] (ntdev) -- (epdev); \draw[isa] (eptf) -- (tubf); \draw[isa] (eetf) -- (eptf);
\draw[isa] (ntf) -- (eetf); \draw[isa] (pntf) -- (eetf); \draw[isa] (tubc) -- (tubf); \draw[isa] (ntc) -- (tubc);
\draw[partof] (asmor) -- (asdev); \draw[partof] (asfim) -- (asmor); \draw[partof] (tubdev) -- (mod); \draw[partof] (tismor) -- (tisdev);
\draw[partof] (embmor) -- (embdev); \draw[partof] (moep) -- (epdev); \draw[partof] (tubmor) -- (tubdev); \draw[partof] (tubf) -- (tubmor);
\draw[partof] (ntdev) -- (ced); \draw[partof] (eptf) -- (eptm); \draw[partof] (eetf) -- (moemb); \draw[partof] (ntf) -- (ntdev);
\draw[partof] (pntf) -- (ntf); \draw[partof] (ntc) -- (pntf);
\end{scope}
\end{tikzpicture}
\end{document}
